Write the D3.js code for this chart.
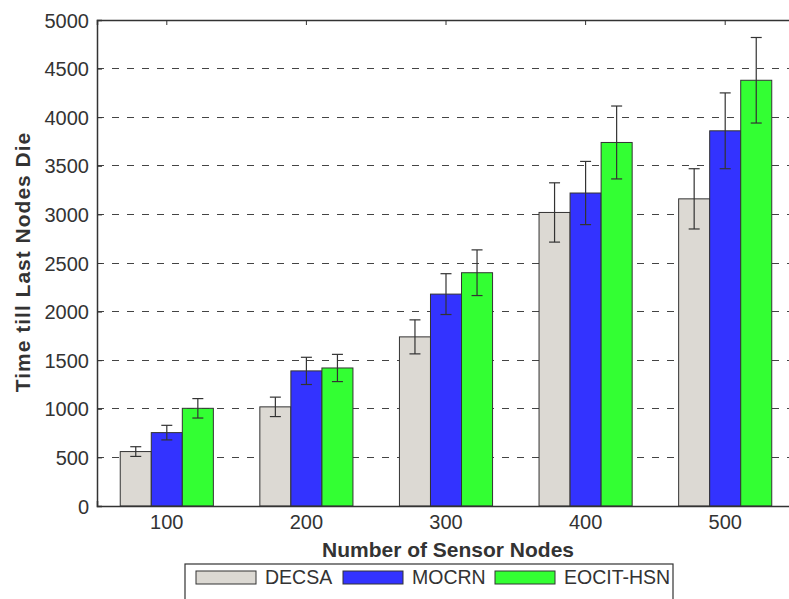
<!DOCTYPE html>
<html><head><meta charset="utf-8">
<script src="https://cdn.jsdelivr.net/npm/d3@7"></script>
<style>
html,body{margin:0;padding:0;background:#fff;}
svg{display:block;font-family:"Liberation Sans",Arial,sans-serif;}
</style></head>
<body><svg id="c" width="789" height="599"></svg>
<script>
const categories = ["100","200","300","400","500"];
const seriesNames = ["DECSA","MOCRN","EOCIT-HSN"];
const decsa  = [560, 1020, 1740, 3020, 3160];
const mocrn  = [755, 1390, 2180, 3220, 3860];
const eocit  = [1005, 1420, 2400, 3740, 4380];
const decsaErr = [50, 100, 175, 305, 310];
const mocrnErr = [75, 140, 210, 325, 390];
const eocitErr = [100, 140, 235, 375, 440];
const yTicks = [0,500,1000,1500,2000,2500,3000,3500,4000,4500,5000];
const colors = ["#dcd9d3","#3333ff","#33ff33"];

const values = [decsa, mocrn, eocit];
const errs = [decsaErr, mocrnErr, eocitErr];

const svg = d3.select("#c");
const L = 97, R = 795, T = 20, B = 506;
const x = d3.scaleBand().domain(categories).range([L, R]).padding(0);
const groupW = x.bandwidth() * 0.667;
const xi = d3.scaleBand().domain(seriesNames).range([-groupW/2, groupW/2]).padding(0);
const y = d3.scaleLinear().domain([0, 5000]).range([B, T]);
const ink = "#333";

// grid
svg.append("g").selectAll("line").data(yTicks.filter(d => d > 0 && d < 5000)).join("line")
  .attr("x1", L).attr("x2", R).attr("y1", d => y(d)).attr("y2", d => y(d))
  .attr("stroke", "#444").attr("stroke-width", 1).attr("stroke-dasharray", "7,8")
  .attr("shape-rendering", "crispEdges");

// bars
const data = [];
categories.forEach((c, i) => seriesNames.forEach((s, j) => data.push({c, s, j, v: values[j][i], e: errs[j][i]})));
svg.append("g").selectAll("rect").data(data).join("rect")
  .attr("x", d => x(d.c) + x.bandwidth()/2 + xi(d.s))
  .attr("y", d => y(d.v))
  .attr("width", xi.bandwidth())
  .attr("height", d => B - y(d.v))
  .attr("fill", d => colors[d.j])
  .attr("stroke", ink).attr("stroke-width", 1);

// error bars
const eg = svg.append("g").attr("stroke", ink).attr("stroke-width", 1.2);
data.forEach(d => {
  const cx = x(d.c) + x.bandwidth()/2 + xi(d.s) + xi.bandwidth()/2;
  eg.append("line").attr("x1", cx).attr("x2", cx).attr("y1", y(d.v + d.e)).attr("y2", y(d.v - d.e));
  eg.append("line").attr("x1", cx - 5.5).attr("x2", cx + 5.5).attr("y1", y(d.v + d.e)).attr("y2", y(d.v + d.e));
  eg.append("line").attr("x1", cx - 5.5).attr("x2", cx + 5.5).attr("y1", y(d.v - d.e)).attr("y2", y(d.v - d.e));
});

// axes
const yAxis = d3.axisLeft(y).tickValues(yTicks).tickSize(-5).tickPadding(8).tickFormat(d3.format("d"));
const gy = svg.append("g").attr("transform", `translate(${L},0)`).call(yAxis);
const xAxis = d3.axisBottom(x).tickSize(-5).tickPadding(9);
const gx = svg.append("g").attr("transform", `translate(0,${B})`).call(xAxis);
const xTop = d3.axisTop(x).tickSize(-5).tickFormat("");
const gt = svg.append("g").attr("transform", `translate(0,${T})`).call(xTop);
[gy, gx, gt].forEach(g => {
  g.selectAll("path").attr("stroke", ink).attr("stroke-width", 1.5);
  g.selectAll("line").attr("stroke", ink);
  g.selectAll("text").attr("fill", ink).style("font-size", "20px").style("font-family", '"Liberation Sans",Arial,sans-serif');
});
gx.selectAll(".tick line").remove();
gy.selectAll(".tick text").attr("dy", "0.35em");

// axis labels
svg.append("text").attr("x", 448).attr("y", 557).attr("text-anchor", "middle")
  .attr("fill", ink).style("font-size", "21px").style("font-weight", "bold")
  .text("Number of Sensor Nodes");
svg.append("text").attr("transform", "translate(30,262) rotate(-90)").attr("text-anchor", "middle")
  .attr("fill", ink).style("font-size", "21px").style("font-weight", "bold").style("letter-spacing", "1px")
  .text("Time till Last Nodes Die");

// legend
const lg = svg.append("g");
lg.append("rect").attr("x", 185).attr("y", 564).attr("width", 488).attr("height", 50)
  .attr("fill", "#fff").attr("stroke", ink).attr("stroke-width", 1.2);
const legX = [196, 343, 495];
seriesNames.forEach((s, j) => {
  lg.append("rect").attr("x", legX[j]).attr("y", 571).attr("width", 60).attr("height", 13)
    .attr("fill", colors[j]).attr("stroke", ink).attr("stroke-width", 1);
  lg.append("text").attr("x", legX[j] + 69).attr("y", 584).attr("fill", ink)
    .style("font-size", "19.5px").text(s);
});
</script></body></html>
